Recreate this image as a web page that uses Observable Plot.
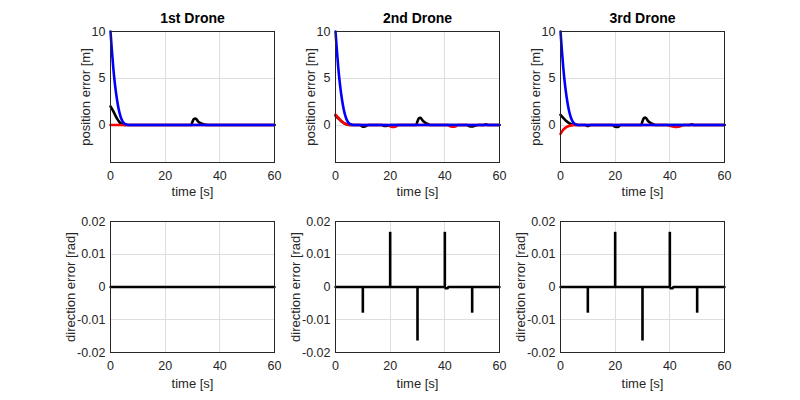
<!DOCTYPE html>
<html><head><meta charset="utf-8">
<script src="https://cdn.jsdelivr.net/npm/d3@7"></script>
<script src="https://cdn.jsdelivr.net/npm/@observablehq/plot@0.6"></script>
<style>
body{margin:0;background:#fff;}
#fig{position:relative;width:800px;height:400px;background:#fff;overflow:hidden;}
.panel{position:absolute;}
</style></head><body><div id="fig"></div>
<script>
// ---------- labels / ticks ----------
const titles = ["1st Drone", "2nd Drone", "3rd Drone"];
const xLabel = "time [s]";
const posLabel = "position error [m]";
const dirLabel = "direction error [rad]";
const timeTicks = [0, 20, 40, 60];
const posTicks = [0, 5, 10];
const dirTicks = [-0.02, -0.01, 0, 0.01, 0.02];
const timeDomain = [0, 60];
const posDomain = [-4, 10];
const dirDomain = [-0.02, 0.02];

// ---------- position error data (time, value) ----------
// Drone 1
const d1BlackT = [0,0.5,1,1.5,2,2.5,3,3.5,4,4.5,5,6,29.5,30,30.5,31,31.5,32,33,34,35,36,60];
const d1BlackV = [2,1.75,1.5,1.2,0.9,0.65,0.42,0.25,0.13,0.06,0.02,0,0,0.35,0.65,0.7,0.6,0.4,0.2,0.08,0.02,0,0];
const d1RedT = [0, 60];
const d1RedV = [0, 0];
const d1BlueT = [0,0.5,1,1.5,2,2.5,3,3.5,4,4.5,5,6,7,60];
const d1BlueV = [10,8,6.2,4.7,3.5,2.5,1.7,1.1,0.65,0.35,0.17,0.04,0,0];
// Drone 2
const d2BlackT = [0,0.5,1,1.5,2,2.5,3,3.5,4,5,6,9,10,11,12,17,18,19,20,29.5,30,30.5,31,31.5,32,33,34,35,48,49,50,51,52,54,55,56,60];
const d2BlackV = [1.0,0.87,0.73,0.58,0.44,0.32,0.22,0.14,0.08,0.02,0,0,-0.18,-0.12,0,0,-0.1,-0.08,0,0,0.4,0.72,0.78,0.65,0.45,0.22,0.08,0,0,-0.12,-0.16,-0.08,0,0,0.08,0,0];
const d2RedT = [0,0.5,1,1.5,2,2.5,3,3.5,4,5,6,19,20,21,22,23,41,42,43,44,45,60];
const d2RedV = [1.1,0.95,0.8,0.63,0.48,0.35,0.24,0.15,0.08,0.02,0,0,-0.12,-0.2,-0.15,0,0,-0.12,-0.18,-0.12,0,0];
const d2BlueT = [0,0.5,1,1.5,2,2.5,3,3.5,4,4.5,5,6,7,60];
const d2BlueV = [10,8,6.2,4.7,3.5,2.5,1.7,1.1,0.65,0.35,0.17,0.04,0,0];
// Drone 3
const d3BlackT = [0,0.5,1,1.5,2,2.5,3,3.5,4,5,6,9,10,11,19,20,21,22,29.5,30,30.5,31,31.5,32,33,34,35,47,48,49,60];
const d3BlackV = [1.1,0.92,0.76,0.6,0.46,0.34,0.24,0.16,0.1,0.03,0,0,-0.1,0,0,-0.18,-0.2,0,0,0.4,0.75,0.8,0.68,0.45,0.22,0.08,0,0,0.08,0,0];
const d3RedT = [0,0.5,1,1.5,2,2.5,3,3.5,4,5,6,39,40,41,42,43,44,45,60];
const d3RedV = [-0.95,-0.7,-0.5,-0.36,-0.25,-0.17,-0.1,-0.06,-0.03,0,0,0,-0.08,-0.16,-0.2,-0.18,-0.1,0,0];
const d3BlueT = [0,0.5,1,1.5,2,2.5,3,3.5,4,4.5,5,6,7,60];
const d3BlueV = [10,8,6.2,4.7,3.5,2.5,1.7,1.1,0.65,0.35,0.17,0.04,0,0];

// ---------- direction error data ----------
const dir1T = [0, 60];
const dir1V = [0, 0];
const dir2T = [0, 40, 40.3, 41, 41.3, 60];
const dir2V = [0, 0, -0.0004, -0.0004, 0, 0];
const spike2T = [10, 20, 30, 40, 50];
const spike2V = [-0.008, 0.0167, -0.0165, 0.0167, -0.008];
const dir3T = [0, 40, 40.3, 41, 41.3, 60];
const dir3V = [0, 0, -0.0004, -0.0004, 0, 0];
const spike3T = [10, 20, 30, 40, 50];
const spike3V = [-0.008, 0.0167, -0.0165, 0.0167, -0.008];
const spike1T = [];
const spike1V = [];

const colBlack = "#000000", colRed = "#ff0000", colBlue = "#0000ff";
const tbl = (T, V) => T.map((t, i) => ({t, v: V[i]}));

const posSeries = [
  [[d1BlackT, d1BlackV, colBlack], [d1RedT, d1RedV, colRed], [d1BlueT, d1BlueV, colBlue]],
  [[d2BlackT, d2BlackV, colBlack], [d2RedT, d2RedV, colRed], [d2BlueT, d2BlueV, colBlue]],
  [[d3BlackT, d3BlackV, colBlack], [d3RedT, d3RedV, colRed], [d3BlueT, d3BlueV, colBlue]]
];
const dirSeries = [[dir1T, dir1V, spike1T, spike1V], [dir2T, dir2V, spike2T, spike2V], [dir3T, dir3V, spike3T, spike3V]];

const frameLefts = [110, 335, 560];
const ML = 55, MR = 8, FW = 164;
const FONT = "'Liberation Sans', Arial, Helvetica, sans-serif";
const fig = document.getElementById("fig");

function common(yDomain, mt, mb) {
  return {
    width: ML + FW + MR, height: 200,
    marginLeft: ML, marginRight: MR, marginTop: mt, marginBottom: mb,
    x: {domain: timeDomain},
    y: {domain: yDomain},
    style: {background: "transparent", overflow: "visible", fontFamily: FONT}
  };
}
function axes(yTicks, yFmt) {
  return [
    Plot.frame({stroke: "#262626", strokeWidth: 1, shapeRendering: "crispEdges"}),
    Plot.axisX({ticks: timeTicks, tickSize: 0, tickPadding: 9, fontSize: 12.5, fill: "#262626", label: null, tickFormat: d => String(d)}),
    Plot.axisY({ticks: yTicks, tickSize: 0, tickPadding: 5, fontSize: 12.5, fill: "#262626", label: null, tickFormat: yFmt})
  ];
}

for (let c = 0; c < 3; c++) {
  // top: position error
  const top = Plot.plot({
    ...common(posDomain, 31, 38),
    marks: [
      Plot.gridX(timeTicks.slice(1, -1), {stroke: "#dedede", strokeOpacity: 1, shapeRendering: "crispEdges"}),
      Plot.gridY(posTicks.slice(0, -1), {stroke: "#dedede", strokeOpacity: 1, shapeRendering: "crispEdges"}),
      ...posSeries[c].map(([T, V, col]) => Plot.line(tbl(T, V), {x: "t", y: "v", stroke: col, strokeWidth: 2.6, curve: "monotone-x", strokeLinejoin: "round"})),
      ...axes(posTicks, d => String(d)),
      Plot.text([xLabel], {frameAnchor: "bottom", lineAnchor: "middle", textAnchor: "middle", dy: 29, fontSize: 13, fill: "#262626"}),
      Plot.text([posLabel], {frameAnchor: "left", lineAnchor: "middle", textAnchor: "middle", dx: -25, rotate: -90, fontSize: 13, fill: "#262626"}),
      Plot.text([titles[c]], {frameAnchor: "top", lineAnchor: "middle", textAnchor: "middle", dy: -13, fontSize: 14, fontWeight: "bold", fill: "#000"})
    ]
  });
  const d1 = document.createElement("div");
  d1.className = "panel"; d1.style.left = (frameLefts[c] - ML) + "px"; d1.style.top = "0px";
  d1.appendChild(top); fig.appendChild(d1);

  // bottom: direction error
  const [bT, bV, sT, sV] = dirSeries[c];
  const bot = Plot.plot({
    ...common(dirDomain, 21, 48),
    marks: [
      Plot.gridX(timeTicks.slice(1, -1), {stroke: "#dedede", strokeOpacity: 1, shapeRendering: "crispEdges"}),
      Plot.gridY(dirTicks.slice(1, -1), {stroke: "#dedede", strokeOpacity: 1, shapeRendering: "crispEdges"}),
      Plot.line(tbl(bT, bV), {x: "t", y: "v", stroke: colBlack, strokeWidth: 2.4}),
      Plot.ruleX(tbl(sT, sV), {x: "t", y1: 0, y2: "v", stroke: colBlack, strokeWidth: 2.6}),
      ...axes(dirTicks, d => d === 0 ? "0" : String(d)),
      Plot.text([xLabel], {frameAnchor: "bottom", lineAnchor: "middle", textAnchor: "middle", dy: 31, fontSize: 13, fill: "#262626"}),
      Plot.text([dirLabel], {frameAnchor: "left", lineAnchor: "middle", textAnchor: "middle", dx: -40, rotate: -90, fontSize: 13, fill: "#262626"})
    ]
  });
  const d2 = document.createElement("div");
  d2.className = "panel"; d2.style.left = (frameLefts[c] - ML) + "px"; d2.style.top = "200px";
  d2.appendChild(bot); fig.appendChild(d2);
}
</script>
</body></html>
